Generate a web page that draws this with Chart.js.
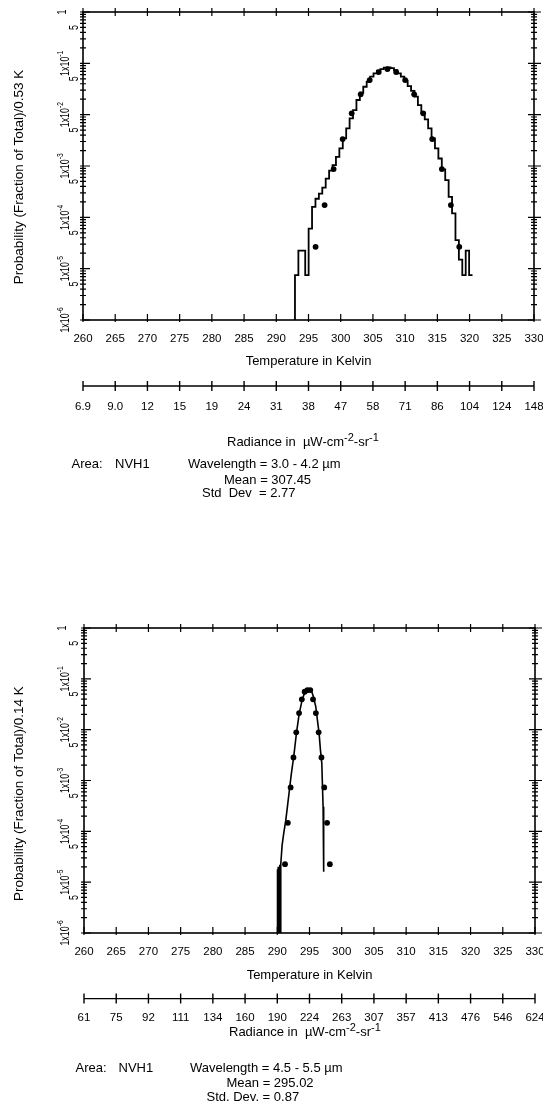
<!DOCTYPE html>
<html><head><meta charset="utf-8">
<script src="https://cdn.jsdelivr.net/npm/chart.js@4.4.1/dist/chart.umd.min.js"></script>
<style>
html,body{margin:0;padding:0;background:#fff;width:543px;height:1101px;overflow:hidden;}
canvas{display:block;position:absolute;left:0;}
</style></head><body>
<canvas id="c1" width="543" height="550" style="top:0px"></canvas>
<canvas id="c2" width="543" height="551" style="top:550px"></canvas>
<script>
// ---------- data ----------
const tempTicks = [260,265,270,275,280,285,290,295,300,305,310,315,320,325,330];
const radianceLabelsTop = ['6.9','9.0','12','15','19','24','31','38','47','58','71','86','104','124','148'];
const radianceLabelsBottom = ['61','75','92','111','134','160','190','224','263','307','357','413','476','546','624'];

const yLabelValues = [1,0.5,0.1,0.05,0.01,0.005,0.001,0.0005,0.0001,0.00005,0.00001,0.000005,0.000001];
const yLabelTexts  = ['1','5','1x10','5','1x10','5','1x10','5','1x10','5','1x10','5','1x10'];
const yLabelSups   = ['','','-1','','-2','','-3','','-4','','-5','','-6'];

// top panel: histogram (bin edges, K) and probabilities per 0.53 K bin
const topEdges = [292.90,293.43,293.96,294.49,295.02,295.55,296.08,296.61,297.14,297.67,298.20,298.73,299.26,299.79,300.32,300.85,301.38,301.91,302.44,302.97,303.50,304.03,304.56,305.09,305.62,306.15,306.68,307.21,307.74,308.27,308.80,309.33,309.86,310.39,310.92,311.45,311.98,312.51,313.04,313.57,314.10,314.63,315.16,315.69,316.22,316.75,317.28,317.81,318.34,318.87,319.40,319.93,320.46];
const topProb = [7.5e-6,2.25e-5,2.25e-5,7.5e-6,6.0e-5,1.6e-4,2.3e-4,2.9e-4,3.8e-4,5.7e-4,8.1e-4,1.04e-3,1.5e-3,2.2e-3,3.45e-3,5.4e-3,8.5e-3,0.0123,0.0193,0.0267,0.035,0.0438,0.055,0.0638,0.0718,0.0774,0.0822,0.083,0.081,0.074,0.0638,0.055,0.0458,0.036,0.0292,0.0224,0.0154,0.0109,8.1e-3,5.4e-3,3.45e-3,2.2e-3,1.4e-3,8.6e-4,5.3e-4,2.5e-4,1.19e-4,3.6e-5,1.5e-5,7.5e-6,2.25e-5,7.5e-6];
const topDotT = [296.1,297.5,298.9,300.3,301.7,303.1,304.5,305.9,307.25,308.6,310.0,311.4,312.8,314.2,315.7,317.1,318.4];
const topDotP = [2.66e-5,1.73e-4,8.7e-4,3.34e-3,0.0106,0.0249,0.0472,0.0677,0.0774,0.0677,0.0472,0.0249,0.0106,3.34e-3,8.7e-4,1.73e-4,2.66e-5];

// bottom panel: 0.14 K histogram drawn as a line, and model points
const botLineT = [290.00,290.00,290.07,290.14,290.21,290.28,290.35,290.42,290.49,290.54,290.75,291.00,291.32,291.57,291.88,292.19,292.55,292.97,293.39,293.80,294.11,294.47,294.89,295.30,295.61,295.98,296.23,296.49,296.70,296.91,297.00,297.11,297.16,297.22,297.22];
const botLineP = [1e-6,1.8e-5,1e-6,2.0e-5,1e-6,2.0e-5,1e-6,2.2e-5,1e-6,2.26e-5,5.35e-5,9.1e-5,1.66e-4,3.04e-4,6.5e-4,1.38e-3,2.93e-3,8.45e-3,0.0203,0.0355,0.048,0.0583,0.063,0.0583,0.0445,0.0282,0.01545,8.45e-3,3.97e-3,2.17e-3,8.75e-4,3.04e-4,1.23e-4,4.95e-5,1.6e-5];
const botDotT = [291.2,291.64,292.07,292.51,292.94,293.38,293.81,294.25,294.68,295.12,295.55,295.99,296.42,296.86,297.29,297.73,298.16];
const botDotP = [2.26e-5,1.47e-4,7.3e-4,2.85e-3,8.85e-3,0.0212,0.0395,0.0557,0.0602,0.0602,0.0395,0.0212,8.85e-3,2.85e-3,7.3e-4,1.47e-4,2.26e-5];

// ---------- drawing ----------
const FONT = '"Liberation Sans", Arial, Helvetica, sans-serif';

function richWidth(ctx, parts, size, supSize){
  let w = 0;
  parts.forEach(p=>{ctx.font = (p.sup?supSize:size)+'px '+FONT; w += ctx.measureText(p.t).width;});
  return w;
}
function drawRich(ctx, parts, x, y, size, supSize, rise){
  let cx = x;
  parts.forEach(p=>{
    ctx.font = (p.sup?supSize:size)+'px '+FONT;
    ctx.fillText(p.t, cx, p.sup ? y - rise : y);
    cx += ctx.measureText(p.t).width;
  });
}

function makeDeco(cfg){
  return {id:'deco', afterDraw(chart){
    const ctx = chart.ctx, a = chart.chartArea, x = chart.scales.x, y = chart.scales.y;
    ctx.save();
    ctx.strokeStyle = '#000'; ctx.fillStyle = '#000';
    ctx.lineWidth = 1.6;
    ctx.strokeRect(a.left, a.top, a.right - a.left, a.bottom - a.top);
    ctx.lineWidth = 1.2;
    ctx.beginPath();
    tempTicks.forEach(t=>{
      const px = x.getPixelForValue(t);
      ctx.moveTo(px, a.top - 4); ctx.lineTo(px, a.top + 4);
      ctx.moveTo(px, a.bottom - 6); ctx.lineTo(px, a.bottom + 2);
    });
    for (let e = 0; e >= -6; e--) {
      for (let m = 1; m <= 9; m++) {
        if (e === 0 && m > 1) break;
        const py = y.getPixelForValue(m * Math.pow(10, e));
        const major = m === 1;
        ctx.moveTo(a.left - 3, py); ctx.lineTo(a.left + (major ? 7 : 3), py);
        ctx.moveTo(a.right - (major ? 6 : 3), py); ctx.lineTo(a.right + (major ? 7 : 3), py);
      }
    }
    ctx.stroke();
    // radiance axis
    ctx.lineWidth = 1.4;
    ctx.beginPath();
    const x0 = x.getPixelForValue(tempTicks[0]), x1 = x.getPixelForValue(tempTicks[tempTicks.length-1]);
    ctx.moveTo(x0, cfg.radY); ctx.lineTo(x1, cfg.radY);
    tempTicks.forEach(t=>{
      const px = x.getPixelForValue(t);
      ctx.moveTo(px, cfg.radY - 5); ctx.lineTo(px, cfg.radY + 5);
    });
    ctx.stroke();

    // temperature tick labels
    ctx.textAlign = 'center'; ctx.textBaseline = 'alphabetic';
    ctx.font = '11.5px ' + FONT;
    tempTicks.forEach(t=>{ ctx.fillText(String(t), x.getPixelForValue(t), cfg.tempLabelY); });
    cfg.radLabels.forEach((s,i)=>{ ctx.fillText(s, x.getPixelForValue(tempTicks[i]), cfg.radLabelY); });
    ctx.font = '13px ' + FONT;
    ctx.fillText('Temperature in Kelvin', (a.left + a.right)/2, cfg.tempTitleY);

    // radiance title with superscripts
    ctx.textAlign = 'left';
    const rparts = [{t:'Radiance in  \u00b5W-cm'},{t:'-2',sup:true},{t:'-sr'},{t:'-1',sup:true}];
    drawRich(ctx, rparts, cfg.radTitleX, cfg.radTitleY, 13, 11, 5);

    // notes
    ctx.font = '13px ' + FONT;
    cfg.notes.forEach(n=>{ ctx.fillText(n.t, n.x, n.y); });

    // y tick labels (rotated)
    yLabelValues.forEach((v,i)=>{
      const py = y.getPixelForValue(v);
      const main = yLabelTexts[i], sup = yLabelSups[i];
      const bx = main === '5' ? 78 : (main === '1' ? 66 : 68.5);
      ctx.save();
      ctx.translate(bx, py); ctx.rotate(-Math.PI/2); ctx.scale(0.74, 1);
      const parts = sup ? [{t:main},{t:sup,sup:true}] : [{t:main}];
      const w = richWidth(ctx, parts, 12, 9);
      drawRich(ctx, parts, -w/2, 0, 12, 9, 5.5);
      ctx.restore();
    });

    // y title
    ctx.save();
    ctx.translate(cfg.yTitleX, cfg.yTitleY); ctx.rotate(-Math.PI/2);
    ctx.textAlign = 'center'; ctx.textBaseline = 'middle';
    ctx.font = '13.5px ' + FONT;
    ctx.fillText(cfg.yTitle, 0, 0);
    ctx.restore();
    ctx.restore();
  }};
}

function makeChart(id, lineData, stepped, lineWidth, dotData, pad, cfg){
  return new Chart(document.getElementById(id), {
    type: 'scatter',
    data: { datasets: [
      { data: lineData, showLine: true, stepped: stepped, borderColor: '#000', borderWidth: lineWidth,
        pointRadius: 0, fill: false, tension: 0 },
      { data: dotData, showLine: false, pointRadius: 2.9, pointBackgroundColor: '#000',
        pointBorderColor: '#000', pointBorderWidth: 0 }
    ]},
    options: {
      responsive: false, animation: false, devicePixelRatio: 1, events: [],
      layout: { padding: pad },
      plugins: { legend: { display: false }, tooltip: { enabled: false } },
      scales: {
        x: { type: 'linear', min: tempTicks[0], max: tempTicks[tempTicks.length-1], display: false },
        y: { type: 'logarithmic', min: 1e-6, max: 1, display: false }
      }
    },
    plugins: [makeDeco(cfg)]
  });
}

// top panel
const topLine = [{x: topEdges[0], y: 1e-6}];
topEdges.forEach((t,i)=>{ topLine.push({x: t, y: topProb[Math.min(i, topProb.length-1)]}); });
const topDots = topDotT.map((t,i)=>({x: t, y: topDotP[i]}));
makeChart('c1', topLine, 'before', 1.8, topDots,
  {left: 83, right: 9, top: 12, bottom: 230},
  { radY: 386, tempLabelY: 342, tempTitleY: 364.5, radLabelY: 409.5, radTitleX: 227, radTitleY: 445.5,
    yTitle: 'Probability (Fraction of Total)/0.53 K', yTitleX: 19, yTitleY: 177,
    radLabels: radianceLabelsTop,
    notes: [ {t:'Area:', x:71.5, y:467.5}, {t:'NVH1', x:115, y:467.5},
             {t:'Wavelength = 3.0 - 4.2 \u00b5m', x:188, y:467.5},
             {t:'Mean = 307.45', x:224, y:483.5},
             {t:'Std  Dev  = 2.77', x:202, y:496.5} ] });

// bottom panel
const botLine = botLineT.map((t,i)=>({x: t, y: botLineP[i]}));
const botDots = botDotT.map((t,i)=>({x: t, y: botDotP[i]}));
makeChart('c2', botLine, false, 1.6, botDots,
  {left: 84, right: 8, top: 78, bottom: 168},
  { radY: 448.6, tempLabelY: 405, tempTitleY: 428.6, radLabelY: 471, radTitleX: 229, radTitleY: 485.6,
    yTitle: 'Probability (Fraction of Total)/0.14 K', yTitleX: 19, yTitleY: 243.6,
    radLabels: radianceLabelsBottom,
    notes: [ {t:'Area:', x:75.5, y:521.6}, {t:'NVH1', x:118.5, y:521.6},
             {t:'Wavelength = 4.5 - 5.5 \u00b5m', x:190, y:521.6},
             {t:'Mean = 295.02', x:226.5, y:536.6},
             {t:'Std. Dev. = 0.87', x:206.5, y:550.5} ] });
</script>
</body></html>
